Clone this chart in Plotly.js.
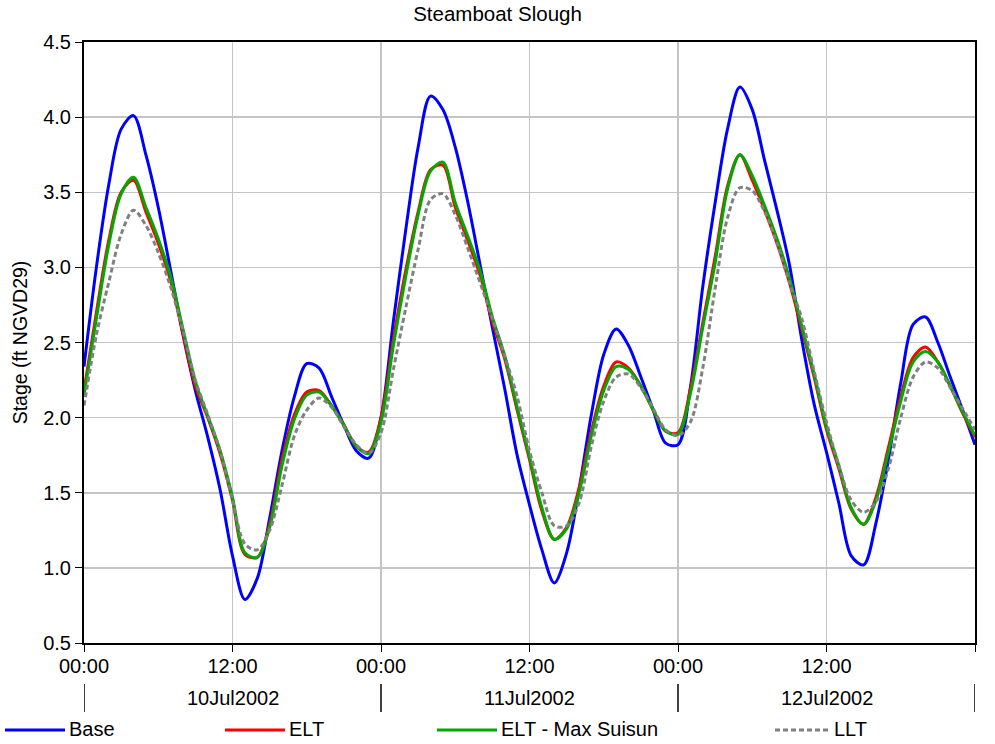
<!DOCTYPE html>
<html>
<head>
<meta charset="utf-8">
<script src="https://cdn.plot.ly/plotly-3.0.1.min.js"></script>
<style>
  html, body { margin: 0; padding: 0; background: #ffffff; }
  #chart { width: 995px; height: 744px; }
</style>
</head>
<body>
<div id="chart"></div>
<script>
// Hourly stage values, 10Jul2002 00:00 through 13Jul2002 00:00 (ft NGVD29)
var seriesNames = ['Base', 'ELT', 'ELT - Max Suisun', 'LLT'];
var seriesColors = ['#0000ff', '#ff0000', '#00a800', '#808080'];

var base = [2.34, 3.00, 3.55, 3.92, 4.01, 3.75, 3.40, 2.98, 2.55, 2.18,
            1.87, 1.52, 1.08, 0.79, 0.93, 1.33, 1.78, 2.14, 2.36, 2.33,
            2.14, 1.95, 1.78, 1.73, 2.00, 2.64, 3.25, 3.80, 4.14, 4.05,
            3.80, 3.44, 3.02, 2.60, 2.19, 1.75, 1.42, 1.12, 0.90, 1.10,
            1.52, 2.02, 2.42, 2.59, 2.48, 2.27, 2.05, 1.83, 1.82, 2.20,
            2.87, 3.43, 3.92, 4.20, 4.05, 3.71, 3.38, 3.02, 2.52, 2.09,
            1.77, 1.43, 1.08, 1.02, 1.30, 1.72, 2.23, 2.62, 2.67, 2.50,
            2.27, 2.05, 1.82];

var elt = [2.18, 2.70, 3.18, 3.50, 3.58, 3.37, 3.16, 2.91, 2.56, 2.21,
           2.00, 1.76, 1.45, 1.09, 1.07, 1.29, 1.72, 2.02, 2.17, 2.18,
           2.08, 1.95, 1.81, 1.77, 2.00, 2.52, 2.98, 3.37, 3.65, 3.68,
           3.40, 3.18, 2.95, 2.64, 2.39, 2.05, 1.72, 1.38, 1.19, 1.27,
           1.53, 1.91, 2.21, 2.37, 2.33, 2.21, 2.05, 1.91, 1.90, 2.19,
           2.63, 3.07, 3.54, 3.75, 3.58, 3.38, 3.16, 2.90, 2.59, 2.27,
           1.92, 1.66, 1.39, 1.29, 1.47, 1.80, 2.14, 2.40, 2.47, 2.37,
           2.21, 2.03, 1.87];

var eltMaxSuisun = [2.15, 2.66, 3.15, 3.49, 3.60, 3.40, 3.19, 2.94, 2.59, 2.24,
                    2.01, 1.78, 1.47, 1.10, 1.07, 1.27, 1.68, 1.99, 2.15, 2.17,
                    2.08, 1.95, 1.81, 1.76, 1.97, 2.48, 2.94, 3.35, 3.64, 3.70,
                    3.43, 3.21, 2.98, 2.67, 2.41, 2.07, 1.74, 1.40, 1.19, 1.26,
                    1.50, 1.88, 2.18, 2.34, 2.32, 2.21, 2.05, 1.91, 1.89, 2.16,
                    2.60, 3.03, 3.52, 3.75, 3.61, 3.41, 3.19, 2.93, 2.61, 2.29,
                    1.94, 1.68, 1.40, 1.29, 1.45, 1.77, 2.11, 2.37, 2.44, 2.37,
                    2.21, 2.04, 1.88];

var llt = [2.08, 2.55, 2.90, 3.22, 3.38, 3.28, 3.10, 2.87, 2.58, 2.25,
           2.02, 1.78, 1.45, 1.16, 1.12, 1.25, 1.55, 1.88, 2.05, 2.13,
           2.07, 1.94, 1.82, 1.76, 1.90, 2.32, 2.73, 3.12, 3.45, 3.49,
           3.35, 3.13, 2.90, 2.66, 2.41, 2.14, 1.78, 1.50, 1.28, 1.28,
           1.43, 1.81, 2.11, 2.27, 2.29, 2.20, 2.06, 1.92, 1.88, 1.97,
           2.33, 2.86, 3.33, 3.53, 3.51, 3.37, 3.16, 2.90, 2.66, 2.31,
           1.97, 1.68, 1.45, 1.37, 1.44, 1.66, 2.00, 2.27, 2.37, 2.33,
           2.20, 2.06, 1.92];

var xTickLabels = ['00:00', '12:00', '00:00', '12:00', '00:00', '12:00', '00:00'];
var dayLabels = ['10Jul2002', '11Jul2002', '12Jul2002'];
var dayNoons = ['2002-07-10 12:00', '2002-07-11 12:00', '2002-07-12 12:00'];
var dayBounds = ['2002-07-10 00:00', '2002-07-11 00:00', '2002-07-12 00:00', '2002-07-13 00:00'];
var yTickVals = [0.5, 1.0, 1.5, 2.0, 2.5, 3.0, 3.5, 4.0, 4.5];
var yTickText = ['0.5', '1.0', '1.5', '2.0', '2.5', '3.0', '3.5', '4.0', '4.5'];

function pad(n) { return (n < 10 ? '0' : '') + n; }
function hourStamp(i) {
  var d = new Date(Date.UTC(2002, 6, 10, 0, 0, 0) + i * 3600000);
  return d.getUTCFullYear() + '-' + pad(d.getUTCMonth() + 1) + '-' + pad(d.getUTCDate()) +
         ' ' + pad(d.getUTCHours()) + ':00';
}
var times = base.map(function (_, i) { return hourStamp(i); });
var xTickVals = [];
for (var k = 0; k < xTickLabels.length; k++) xTickVals.push(hourStamp(k * 12));

var FONT = 'Liberation Sans, Arial, sans-serif';
var allSeries = [base, elt, eltMaxSuisun, llt];

var traces = allSeries.map(function (vals, i) {
  return {
    x: times, y: vals, type: 'scatter', mode: 'lines', name: seriesNames[i],
    line: { color: seriesColors[i], width: 3, shape: 'spline', smoothing: 0.9,
            dash: i === 3 ? '5px,3px' : 'solid' },
    showlegend: false, hoverinfo: 'x+y+name'
  };
});

// Plot area in pixels: x 84..975, y 42..643
var L = 84, R = 975, T = 42, B = 643;
function px(xp) { return (xp - L) / (R - L); }
function py(yp) { return (B - yp) / (B - T); }

var shapes = [];
var annotations = [];

// day separators below axis
dayBounds.forEach(function (d) {
  shapes.push({ type: 'line', xref: 'x', yref: 'paper', x0: d, x1: d,
                y0: py(684), y1: py(712), line: { color: '#000000', width: 1.5 } });
});
dayLabels.forEach(function (lab, i) {
  annotations.push({ text: lab, xref: 'x', yref: 'paper', x: dayNoons[i], y: py(698),
                     showarrow: false, xanchor: 'center', yanchor: 'middle',
                     font: { family: FONT, size: 20, color: '#000000' } });
});

// legend (drawn below the chart)
var legendLineX = [5, 225, 437, 775];
var legendLineEnd = [65, 285, 497, 830];
seriesNames.forEach(function (nm, i) {
  shapes.push({ type: 'line', xref: 'paper', yref: 'paper',
                x0: px(legendLineX[i]), x1: px(legendLineEnd[i]), y0: py(730), y1: py(730),
                line: { color: seriesColors[i], width: 3, dash: i === 3 ? '5px,3px' : 'solid' } });
  annotations.push({ text: nm, xref: 'paper', yref: 'paper', x: px(legendLineEnd[i] + 2), y: py(729),
                     showarrow: false, xanchor: 'left', yanchor: 'middle',
                     font: { family: FONT, size: 20, color: '#000000' } });
});

var layout = {
  width: 995, height: 744,
  margin: { l: L, r: 995 - R, t: T, b: 744 - B, pad: 0 },
  paper_bgcolor: '#ffffff', plot_bgcolor: '#ffffff',
  font: { family: FONT, size: 20, color: '#000000' },
  title: { text: 'Steamboat Slough', x: 0.5, xref: 'container', y: 1 - 14 / 744,
           yref: 'container', yanchor: 'middle', xanchor: 'center',
           font: { family: FONT, size: 20.5, color: '#000000' } },
  xaxis: {
    type: 'date', range: [dayBounds[0], dayBounds[3]],
    tickmode: 'array', tickvals: xTickVals, ticktext: xTickLabels,
    ticks: 'outside', ticklen: 7, tickcolor: '#000000', tickwidth: 1,
    ticklabelstandoff: -3,
    showgrid: true, gridcolor: '#c4c4c4', gridwidth: 1.5,
    showline: true, linecolor: '#000000', linewidth: 2, mirror: true,
    zeroline: false, tickfont: { family: FONT, size: 20 }
  },
  yaxis: {
    range: [0.5, 4.5], tickmode: 'array', tickvals: yTickVals, ticktext: yTickText,
    ticks: 'outside', ticklen: 7, tickcolor: '#000000', tickwidth: 1,
    showgrid: true, gridcolor: '#c4c4c4', gridwidth: 1.5,
    showline: true, linecolor: '#000000', linewidth: 2, mirror: true,
    zeroline: false, tickfont: { family: FONT, size: 20 },
    title: { text: 'Stage (ft NGVD29)', standoff: 10, font: { family: FONT, size: 19.5 } }
  },
  shapes: shapes,
  annotations: annotations,
  showlegend: false
};

Plotly.newPlot('chart', traces, layout, { staticPlot: true, displayModeBar: false });
</script>
</body>
</html>
